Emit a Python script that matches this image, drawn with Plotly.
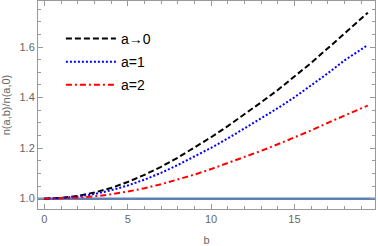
import plotly.graph_objects as go

b_vals = [0, 1, 2, 3, 4, 5, 6, 7, 8, 9, 10, 11, 12, 13, 14, 15, 16, 17, 18, 19, 19.4]
n_a0 = [1.000, 1.003, 1.011, 1.024, 1.042, 1.066, 1.094, 1.126, 1.162, 1.201, 1.243,
        1.287, 1.333, 1.381, 1.430, 1.482, 1.537, 1.595, 1.655, 1.712, 1.736]
n_a1 = [1.000, 1.002, 1.008, 1.018, 1.033, 1.052, 1.075, 1.102, 1.133, 1.166, 1.201,
        1.238, 1.277, 1.317, 1.358, 1.401, 1.447, 1.496, 1.547, 1.591, 1.608]
n_a2 = [1.000, 1.001, 1.004, 1.009, 1.017, 1.028, 1.041, 1.057, 1.075, 1.095, 1.117,
        1.140, 1.164, 1.189, 1.215, 1.242, 1.270, 1.300, 1.330, 1.357, 1.368]
x_ticks = [0, 5, 10, 15]
y_ticks = [1.0, 1.2, 1.4, 1.6]
names = ["a→0", "a=1", "a=2"]

fig = go.Figure()
fig.add_hline(y=1.0, line=dict(color="#5E81B5", width=2.5), layer="below")
fig.add_trace(go.Scatter(x=b_vals, y=n_a0, mode="lines", name=names[0], legendgroup="g0",
                         line=dict(color="black", width=2, dash="6px,3px")))
fig.add_trace(go.Scatter(x=b_vals, y=n_a1, mode="lines", name=names[1], legendgroup="g1",
                         line=dict(color="blue", width=2, dash="2px,2px")))
fig.add_trace(go.Scatter(x=b_vals, y=n_a2, mode="lines", name=names[2], legendgroup="g2",
                         line=dict(color="red", width=2, dash="6px,3px,2px,3px")))

axis_common = dict(showgrid=False, zeroline=False, showline=True, linecolor="#999999",
                   linewidth=1, mirror="allticks", ticks="inside", ticklen=5, automargin=False,
                   tickcolor="#999999", tickfont=dict(family="Liberation Sans", size=11, color="#666666"))
fig.update_xaxes(range=[-0.38, 19.83], tickvals=x_ticks,
                 minor=dict(dtick=1, ticks="inside", ticklen=3, tickcolor="#999999"),
                 title=dict(text="b", font=dict(family="Liberation Sans", size=11, color="#666666")),
                 **axis_common)
fig.update_yaxes(range=[0.959, 1.782], tickvals=y_ticks, tickformat=".1f",
                 minor=dict(dtick=0.05, ticks="inside", ticklen=3, tickcolor="#999999"),
                 title=dict(text="n(a,b)/n(a,0)", font=dict(family="Liberation Sans", size=11, color="#666666")),
                 **axis_common)
fig.update_layout(
    width=378, height=246,
    margin=dict(l=38, r=3, t=1, b=37),
    paper_bgcolor="white", plot_bgcolor="white",
    showlegend=True,
    legend=dict(x=0.068, y=0.895, xanchor="left", yanchor="top", bgcolor="rgba(0,0,0,0)",
                font=dict(family="Liberation Sans", size=14, color="black"),
                itemwidth=50, tracegroupgap=2),
)
fig.write_html("out.html", config={"displayModeBar": False},
               post_script="document.body.style.margin='0';document.body.style.overflow='hidden';")
